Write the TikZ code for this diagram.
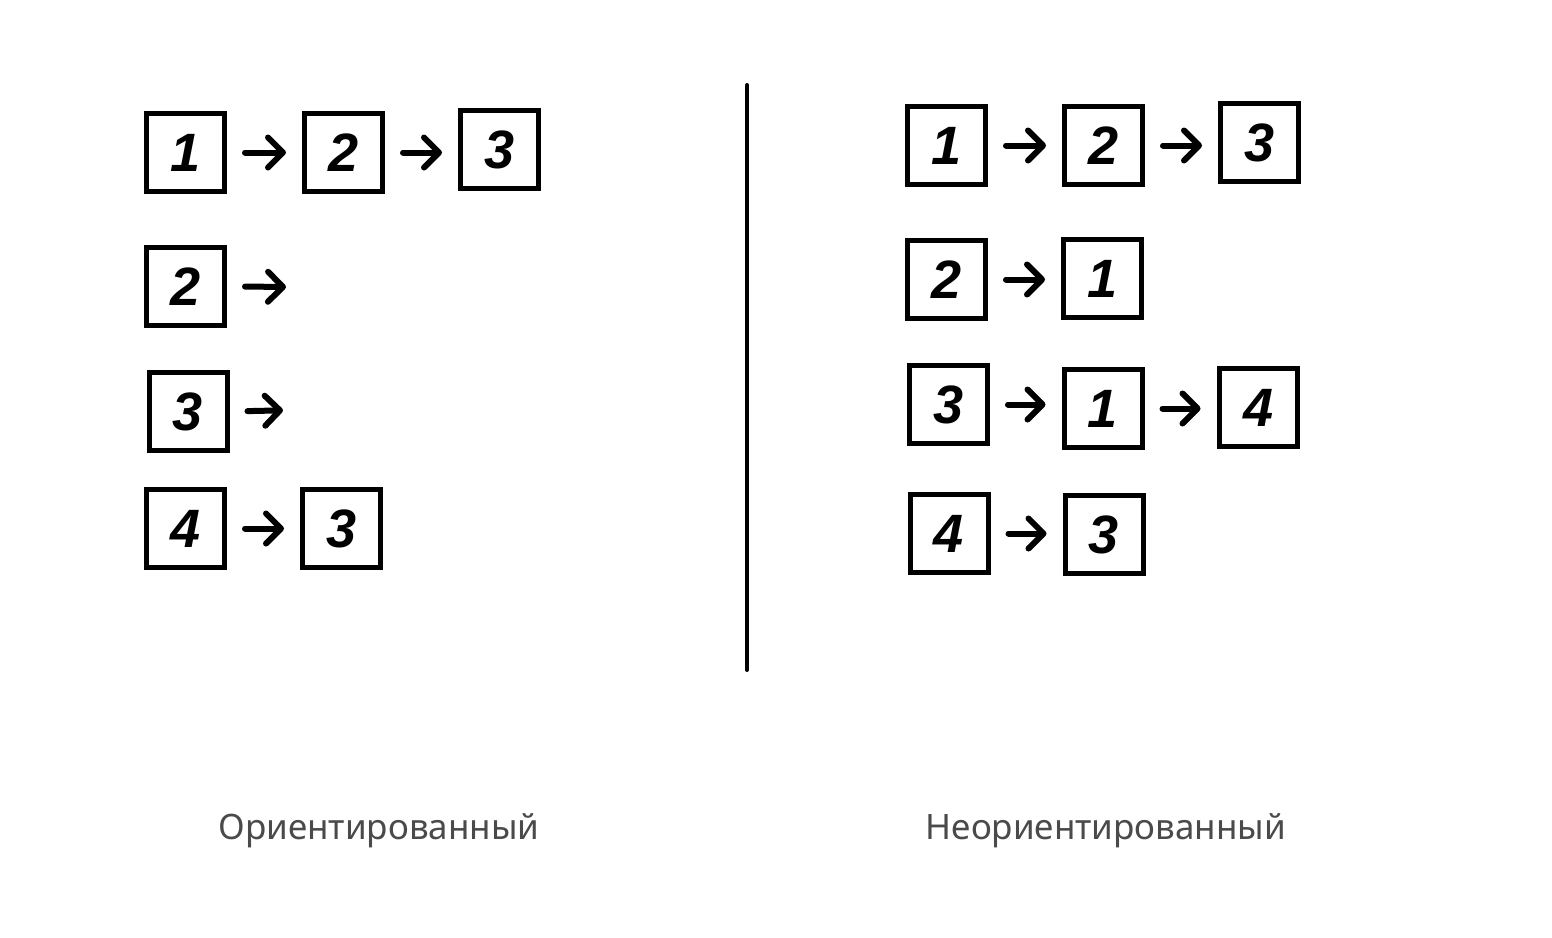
\documentclass[tikz,border=0pt]{standalone}
\usepackage{fontspec}
\setmainfont{Noto Sans}
\newfontfamily\labelfont{Noto Sans}
\newfontfamily\digitfont{Liberation Sans}
\usetikzlibrary{arrows.meta}

\definecolor{labelgray}{HTML}{4A4A4A}

\tikzset{
  vertex/.style={draw=black,line width=5pt,minimum size=78pt,inner sep=0pt,
    font=\digitfont\bfseries\itshape\fontsize{54}{54}\selectfont},
  link/.style={line width=6pt,line cap=round,
    -{Straight Barb[length=15pt,width=30pt,line cap=round,line join=round]},
    shorten <=18pt,shorten >=16pt},
  caption/.style={font=\labelfont\fontsize{35}{35}\selectfont,text=labelgray}
}

\begin{document}
\begin{tikzpicture}[x=1pt,y=-1pt]
        \useasboundingbox[fill=white] (0,0) rectangle (1552,937);

        % left: directed
        \node[vertex] (L11) at (185.5,152.5) {1};
        \node[vertex] (L12) at (343.5,152.5) {2};
        \node[vertex] (L13) at (499.5,149.5) {3};
        \node[vertex] (L21) at (185.5,286.5) {2};
        \coordinate (L2end) at (302,287);
        \node[vertex] (L31) at (188,411.5) {3};
        \coordinate (L3end) at (299,410);
        \node[vertex] (L41) at (185.5,528.5) {4};
        \node[vertex] (L42) at (341.5,528.5) {3};

        \draw[link] (L11.east) -- (L11.east -| L12.west);
        \draw[link] (L12.east) -- (L12.east -| L13.west);
        \draw[link] (L21.east) -- (L2end);
        \draw[link] (L31.east) -- (L3end);
        \draw[link] (L41.east) -- (L41.east -| L42.west);

        % separator
        \coordinate (sepTop) at (747,85);
        \coordinate (sepBot) at (747,670);
        \draw[line width=4pt,line cap=round] (sepTop) -- (sepBot);

        % right: undirected
        \node[vertex] (R11) at (946.5,145.5) {1};
        \node[vertex] (R12) at (1103.5,145.5) {2};
        \node[vertex] (R13) at (1259.5,142.5) {3};
        \node[vertex] (R21) at (946.5,279.5) {2};
        \node[vertex] (R22) at (1102.5,278.5) {1};
        \node[vertex] (R31) at (948.5,404.5) {3};
        \node[vertex] (R32) at (1103,408.5) {1};
        \node[vertex] (R33) at (1258,407.5) {4};
        \node[vertex] (R41) at (949,533.5) {4};
        \node[vertex] (R42) at (1104,534.5) {3};

        \draw[link] (R11.east) -- (R11.east -| R12.west);
        \draw[link] (R12.east) -- (R12.east -| R13.west);
        \draw[link] (R21.east) -- (R21.east -| R22.west);
        \draw[link] (R31.east) -- (R31.east -| R32.west);
        \draw[link] (R32.east) -- (R32.east -| R33.west);
        \draw[link] (R41.east) -- (R41.east -| R42.west);

        \node[caption] (dirLabel) at (379,831) {Ориентированный};
        \node[caption] (undirLabel) at (1106,831) {Неориентированный};
\end{tikzpicture}
\end{document}
